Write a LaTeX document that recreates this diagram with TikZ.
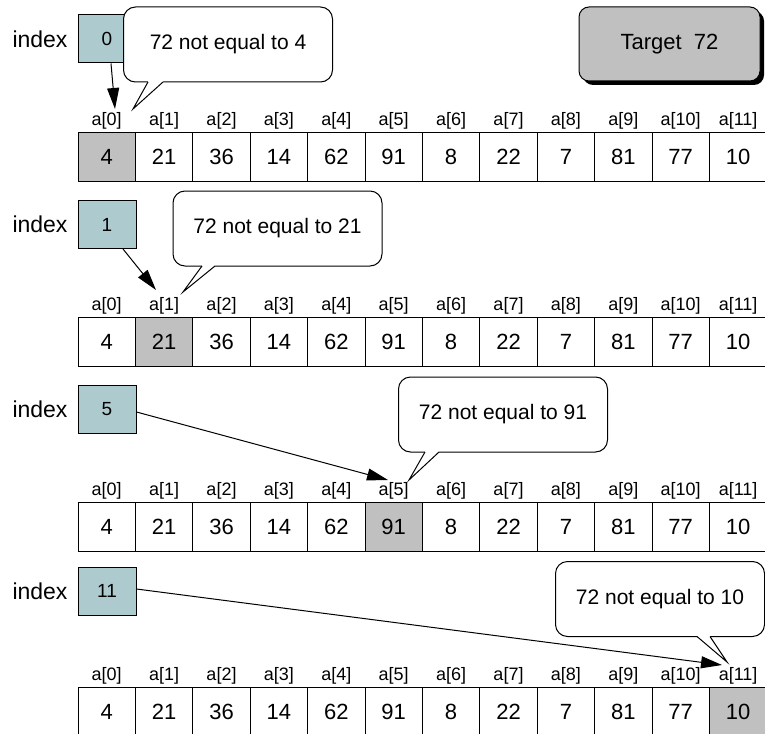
\documentclass[tikz,border=0pt]{standalone}
\usepackage{fontspec}
\setmainfont{Liberation Sans}
\usetikzlibrary{arrows.meta,shadows}
\definecolor{idxfill}{RGB}{173,203,207}
\definecolor{hl}{RGB}{192,192,192}
\begin{document}
\begin{tikzpicture}[x=0.5pt,y=-0.5pt,line width=0.5pt,
 cell/.style={draw,minimum width=28.7pt,minimum height=24.5pt,inner sep=0pt,font=\fontsize{11pt}{13pt}\selectfont},
 lab/.style={inner sep=0pt,font=\fontsize{9pt}{10.8pt}\selectfont},
 idxbox/.style={draw,fill=idxfill,minimum width=29pt,minimum height=24pt,inner sep=0pt,font=\fontsize{9.5pt}{11pt}\selectfont},
 word/.style={inner sep=0pt,font=\fontsize{11.5pt}{13.5pt}\selectfont},
 callout/.style={draw,fill=white,rounded corners=6pt,minimum width=104.5pt,minimum height=37.5pt,inner sep=0pt,font=\fontsize{10.5pt}{12.6pt}\selectfont},
 target/.style={draw,fill=hl,rounded corners=5pt,minimum width=90.5pt,minimum height=37pt,inner sep=0pt,font=\fontsize{11pt}{13pt}\selectfont,drop shadow={shadow xshift=2pt,shadow yshift=-2pt,fill=black,opacity=1}},
 arr/.style={-{Triangle[length=10.5pt,width=6pt]}}
]
\useasboundingbox (0,0) rectangle (765,733);
\clip (0,0) rectangle (765,733);
\def\vals{4,21,36,14,62,91,8,22,7,81,77,10}
\foreach \r/\tp/\hi/\iy in {1/132/0/39, 2/317/1/224.5, 3/502/5/409, 4/687/11/591} {
  \node[word] (w\r) at (40,\iy) {index};
  \node[idxbox] (idx\r) at (107,\iy) {\hi};
  \foreach \v [count=\i from 0] in \vals {
    \pgfmathsetmacro\cx{78+57.4*(\i+0.5)}
    \ifnum\i=\hi\relax \def\cf{hl}\else\def\cf{white}\fi
    \node[cell,fill=\cf] (v\r-\i) at (\cx,{\tp+24.5}) {\v};
    \node[lab] (l\r-\i) at (\cx,{\tp-11}) {a[\i]};
  }
}
% arrow tips and callout pointer tips
\coordinate (t1) at (115,109);
\coordinate (t2) at (156,290);
\coordinate (t3) at (388,480);
\coordinate (t4) at (722,665);
\coordinate (p1) at (133,109);
\coordinate (p2) at (183,292);
\coordinate (p3) at (409,480);
\coordinate (p4) at (727,662);
\draw[arr] ([xshift=2pt]idx1.south) -- (t1);
\draw[arr] ([xshift=8pt]idx2.south) -- (t2);
\draw[arr] ([yshift=-1.5pt]idx3.east) -- (t3);
\draw[arr] ([yshift=1pt]idx4.east) -- (t4);
\foreach \r/\cx/\cy/\ba/\bb/\n in {1/228/44.5/148/163/4, 2/277.5/228.5/202/215/21, 3/503/414.5/425/439/91, 4/660/599/697/710/10} {
  \node[callout] (c\r) at (\cx,\cy) {72 not equal to \n};
  \fill[white] (\ba,{\cy+37.5-3}) -- (\bb,{\cy+37.5-3}) -- (\bb,{\cy+37.5}) -- (p\r) -- (\ba,{\cy+37.5}) -- cycle;
  \draw (\ba,{\cy+37.5}) -- (p\r) -- (\bb,{\cy+37.5});
}
\node[target] (tgt) at (669.5,44) {Target\ \ 72};
\end{tikzpicture}
\end{document}
